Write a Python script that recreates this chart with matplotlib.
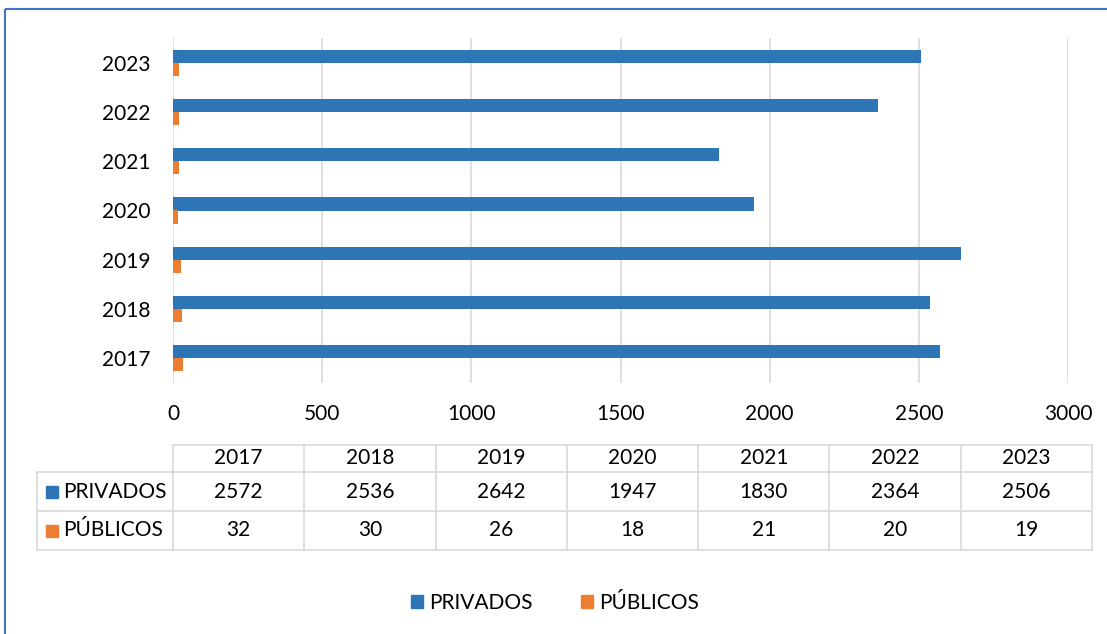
import matplotlib.pyplot as plt
from matplotlib.patches import Rectangle, Patch
import numpy as np

plt.rcParams["font.family"] = ["Lato", "DejaVu Sans"]

years = ["2017", "2018", "2019", "2020", "2021", "2022", "2023"]
privados = [2572, 2536, 2642, 1947, 1830, 2364, 2506]
publicos = [32, 30, 26, 18, 21, 20, 19]
xticks = [0, 500, 1000, 1500, 2000, 2500, 3000]

blue = "#2E75B6"
orange = "#ED7D31"
grid_c = "#D9D9D9"
W, H = 1107, 634
fs = 15

fig = plt.figure(figsize=(W / 100, H / 100), dpi=100)
fig.patch.set_facecolor("white")

ax = fig.add_axes([173 / W, 1 - 383 / H, (1068 - 173) / W, (383 - 38) / H])
y = np.arange(len(years))
bh = 0.265
ax.barh(y + bh / 2, privados, height=bh, color=blue, zorder=3)
ax.barh(y - bh / 2, publicos, height=bh, color=orange, zorder=3)
ax.set_xlim(0, 3000)
ax.set_ylim(-0.5, len(years) - 0.5)
ax.set_xticks(xticks)
ax.set_yticks(y)
ax.set_yticklabels(years)
ax.tick_params(axis="both", length=0, labelsize=fs, colors="black")
ax.tick_params(axis="x", pad=15)
ax.tick_params(axis="y", pad=16)
ax.grid(axis="x", color=grid_c, lw=1.2, zorder=0)
for s in ax.spines.values():
    s.set_visible(False)

# data table below chart, drawn in pixel coordinates
tab = fig.add_axes([0, 0, 1, 1])
tab.set_xlim(0, W)
tab.set_ylim(H, 0)
tab.axis("off")
x0, x_lab, x_end = 173, 37, 1092
cw = (x_end - x0) / len(years)
rows_y = [445, 472, 511, 550]
lc = "#D9D9D9"
tab.plot([x0, x_end], [rows_y[0]] * 2, color=lc, lw=1.2)
for ry in rows_y[1:]:
    tab.plot([x_lab, x_end], [ry, ry], color=lc, lw=1.2)
tab.plot([x_lab, x_lab], [rows_y[1], rows_y[3]], color=lc, lw=1.2)
for k in range(len(years) + 1):
    tab.plot([x0 + k * cw] * 2, [rows_y[0], rows_y[3]], color=lc, lw=1.2)
for k, yr in enumerate(years):
    cx = x0 + (k + 0.5) * cw
    tab.text(cx, (rows_y[0] + rows_y[1]) / 2, yr, ha="center", va="center", fontsize=fs)
    tab.text(cx, (rows_y[1] + rows_y[2]) / 2, str(privados[k]), ha="center", va="center", fontsize=fs)
    tab.text(cx, (rows_y[2] + rows_y[3]) / 2, str(publicos[k]), ha="center", va="center", fontsize=fs)
for (r, name, col) in [(1, "PRIVADOS", blue), (2, "PÚBLICOS", orange)]:
    cy = (rows_y[r] + rows_y[r + 1]) / 2
    tab.add_patch(Rectangle((46, cy - 6), 12, 12, color=col))
    tab.text(63, cy, name, ha="left", va="center", fontsize=fs)

# outer border
tab.add_patch(Rectangle((5, 9), W + 10, H + 10, fill=False, edgecolor="#4472C4", lw=1.5))

handles = [Patch(color=blue, label="PRIVADOS"), Patch(color=orange, label="PÚBLICOS")]
fig.legend(handles=handles, loc="center", bbox_to_anchor=(555 / W, 1 - 603 / H), ncol=2,
           frameon=False, fontsize=fs, handlelength=0.6, handleheight=0.6,
           handletextpad=0.3, columnspacing=2.3)

plt.savefig("out.png", dpi=100)
